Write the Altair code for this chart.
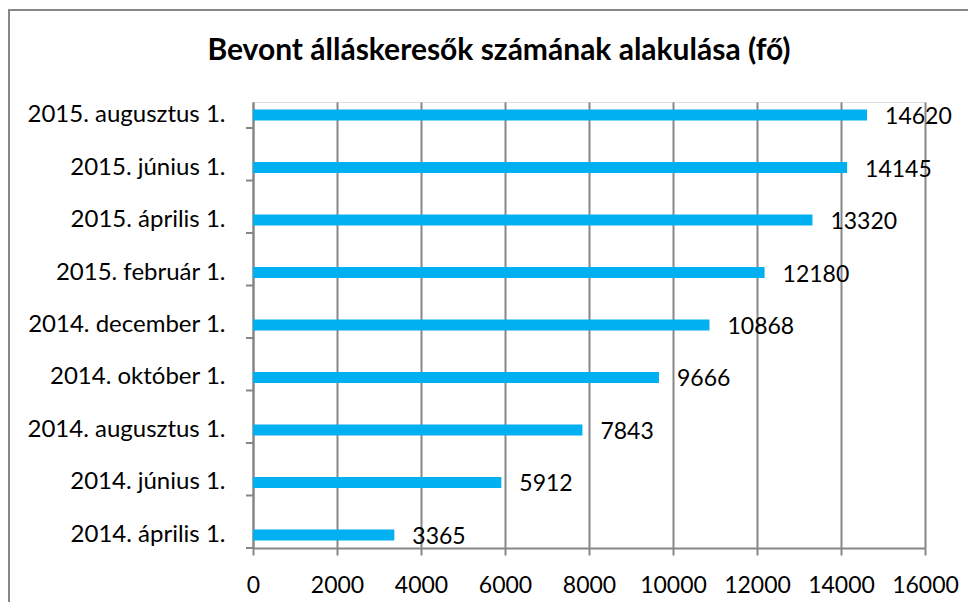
import altair as alt
import pandas as pd

categories = [
    "2015. augusztus 1.",
    "2015. június 1.",
    "2015. április 1.",
    "2015. február 1.",
    "2014. december 1.",
    "2014. október 1.",
    "2014. augusztus 1.",
    "2014. június 1.",
    "2014. április 1.",
]
values = [14620, 14145, 13320, 12180, 10868, 9666, 7843, 5912, 3365]
x_ticks = [0, 2000, 4000, 6000, 8000, 10000, 12000, 14000, 16000]
title_text = "Bevont álláskeresők számának alakulása (fő)"

df = pd.DataFrame({"cat": categories, "val": values})

FONT = "Lato"
GREY = "#878787"
BAR = "#00B0F0"

yscale = alt.Scale(domain=categories, paddingInner=0.79, paddingOuter=0.143)
xscale = alt.Scale(domain=[0, 16000], nice=False)

base = alt.Chart(df)

border = alt.Chart(alt.Data(values=[{}])).mark_rect(
    fill=None, stroke=GREY, strokeWidth=2
).encode(
    x=alt.value(-244), x2=alt.value(1000), y=alt.value(-92), y2=alt.value(1000)
)

title = alt.Chart(alt.Data(values=[{}])).mark_text(
    text=title_text, font=FONT, fontWeight="bold", fontSize=30,
    align="center", baseline="alphabetic", color="black"
).encode(x=alt.value(246), y=alt.value(-42))

bars = base.mark_bar(color=BAR).encode(
    y=alt.Y("cat:N", scale=yscale, sort=categories,
            axis=alt.Axis(title=None, ticks=False, labelPadding=28, labelLimit=0,
                          labelFontSize=24, labelFont=FONT, labelColor="black",
                          domainColor=GREY, domainWidth=2, grid=False)),
    x=alt.X("val:Q", scale=xscale,
            axis=alt.Axis(title=None, values=x_ticks, format="d",
                          labelOverlap=False, labelFlush=False,
                          grid=True, gridColor=GREY, gridWidth=2, gridOpacity=1,
                          tickColor=GREY, tickWidth=2, tickSize=7,
                          domainColor=GREY, domainWidth=2,
                          labelFontSize=23, labelFont=FONT, labelColor="black",
                          labelPadding=19)),
)

labels = base.mark_text(
    align="left", baseline="middle", dx=18, dy=2, fontSize=23, font=FONT, color="black"
).encode(
    y=alt.Y("cat:N", scale=yscale, sort=categories),
    x=alt.X("val:Q", scale=xscale),
    text=alt.Text("val:Q", format="d"),
)

yticks = base.mark_rule(color=GREY, strokeWidth=2, yOffset=13).encode(
    y=alt.Y("cat:N", scale=yscale, sort=categories),
    x=alt.value(-7), x2=alt.value(0),
)

chart = alt.layer(border, title, bars, labels, yticks).properties(
    width=672, height=446,
    autosize=alt.AutoSizeParams(type="none"),
    padding={"left": 245, "top": 94, "right": 43, "bottom": 54},
).configure_view(stroke=None).configure(background="white")

chart.save("out.html", embed_options={"renderer": "svg", "actions": False})
